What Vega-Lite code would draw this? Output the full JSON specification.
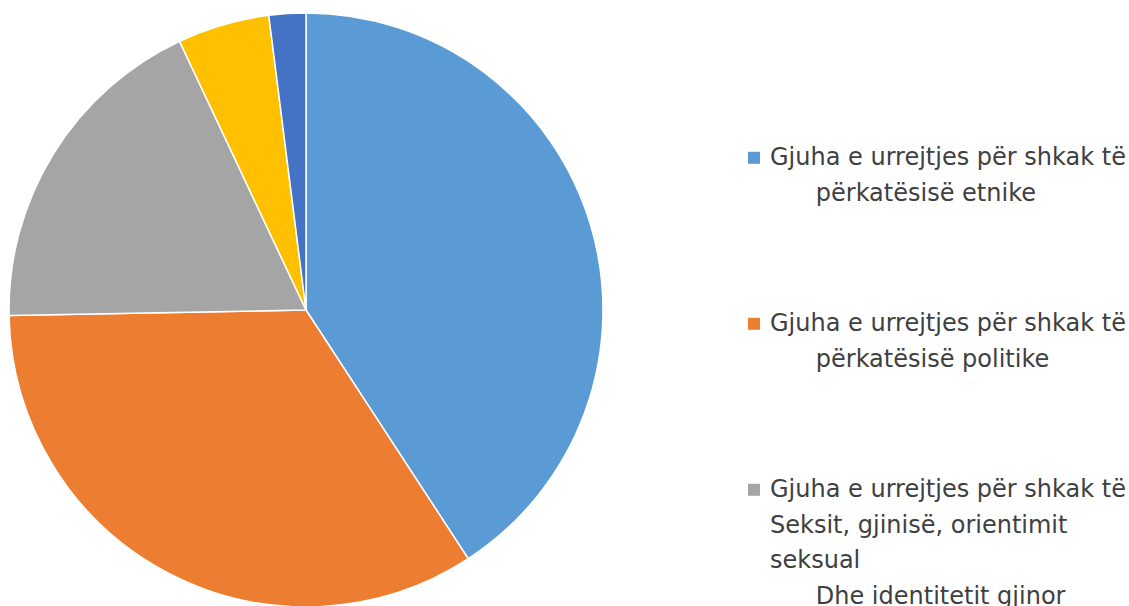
{
  "$schema": "https://vega.github.io/schema/vega-lite/v6.json",
  "width": 612,
  "height": 592,
  "autosize": {"type": "none"},
  "padding": {"left": 0, "top": 14, "right": 517, "bottom": 0},
  "background": "white",
  "config": {
    "view": {"stroke": null},
    "style": {"guide-label": {"lineHeight": 35.5}}
  },
  "data": {
    "values": [
      {"category": "Gjuha e urrejtjes për shkak të|\u200b\u00a0\u00a0\u00a0\u00a0\u00a0\u00a0përkatësisë etnike", "value": 40.8, "order": 1},
      {"category": "Gjuha e urrejtjes për shkak të|\u200b\u00a0\u00a0\u00a0\u00a0\u00a0\u00a0përkatësisë politike", "value": 33.9, "order": 2},
      {"category": "Gjuha e urrejtjes për shkak të|Seksit, gjinisë, orientimit|seksual|\u200b\u00a0\u00a0\u00a0\u00a0\u00a0\u00a0Dhe identitetit gjinor", "value": 18.3, "order": 3},
      {"category": "Gjuha e urrejtjes për shkak të|\u200b\u00a0\u00a0\u00a0\u00a0\u00a0\u00a0përkatësisë fetare", "value": 5.0, "order": 4},
      {"category": "Tjetër", "value": 2.0, "order": 5}
    ]
  },
  "mark": {"type": "arc", "outerRadius": 297, "stroke": "white", "strokeWidth": 1.5},
  "encoding": {
    "theta": {"field": "value", "type": "quantitative", "stack": true},
    "order": {"field": "order", "type": "quantitative"},
    "color": {
      "field": "category",
      "type": "nominal",
      "scale": {
        "domain": [
          "Gjuha e urrejtjes për shkak të|\u200b\u00a0\u00a0\u00a0\u00a0\u00a0\u00a0përkatësisë etnike",
          "Gjuha e urrejtjes për shkak të|\u200b\u00a0\u00a0\u00a0\u00a0\u00a0\u00a0përkatësisë politike",
          "Gjuha e urrejtjes për shkak të|Seksit, gjinisë, orientimit|seksual|\u200b\u00a0\u00a0\u00a0\u00a0\u00a0\u00a0Dhe identitetit gjinor",
          "Gjuha e urrejtjes për shkak të|\u200b\u00a0\u00a0\u00a0\u00a0\u00a0\u00a0përkatësisë fetare",
          "Tjetër"
        ],
        "range": ["#5B9BD5", "#ED7D31", "#A5A5A5", "#FFC000", "#4472C4"]
      },
      "legend": {
        "orient": "none",
        "legendX": 742,
        "legendY": 139,
        "title": null,
        "symbolType": "M-1,-2.2H1V-0.2H-1Z",
        "symbolSize": 144,
        "symbolStrokeWidth": 0,
        "labelFont": "DejaVu Sans",
        "labelFontSize": 24,
        "labelColor": "#404040",
        "labelLimit": 0,
        "labelOffset": 4,
        "labelExpr": "split(datum.label, '|')",
        "labelBaseline": "alphabetic",
        "rowPadding": 106
      }
    }
  }
}
